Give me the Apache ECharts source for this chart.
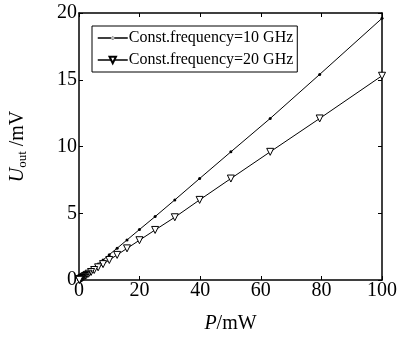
<!DOCTYPE html>
<html>
<head>
<meta charset="utf-8">
<script src="https://cdn.jsdelivr.net/npm/echarts@6/dist/echarts.min.js"></script>
<style>
  html, body { margin: 0; padding: 0; background: #fff; }
  #chart { width: 410px; height: 339px; }
</style>
</head>
<body>
<div id="chart"></div>
<script>
// input power, mW (1 dB steps)
var powerMW = [100, 79.43, 63.1, 50.12, 39.81, 31.62, 25.12, 19.95, 15.85, 12.59, 10,
  7.94, 6.31, 5.01, 3.98, 3.16, 2.51, 2.0, 1.58, 1.26, 1.0,
  0.79, 0.63, 0.5, 0.4, 0.32, 0.25, 0.2, 0.16, 0.13, 0.1]
// output voltage, mV
var uout10GHz = [19.6, 15.4, 12.1, 9.6, 7.6, 6.0, 4.75, 3.78, 3.0, 2.38, 1.9,
  1.5, 1.2, 0.95, 0.76, 0.6, 0.48, 0.38, 0.3, 0.24, 0.19,
  0.15, 0.12, 0.095, 0.076, 0.06, 0.048, 0.038, 0.03, 0.024, 0.019]
var uout20GHz = [15.3, 12.1, 9.6, 7.6, 6.0, 4.7, 3.75, 2.98, 2.37, 1.88, 1.5,
  1.19, 0.95, 0.75, 0.6, 0.47, 0.38, 0.3, 0.24, 0.19, 0.15,
  0.12, 0.095, 0.075, 0.06, 0.047, 0.038, 0.03, 0.024, 0.019, 0.015]
var seriesNames = ['Const.frequency=10 GHz', 'Const.frequency=20 GHz']

var font = 'Liberation Serif'
var chart = echarts.init(document.getElementById('chart'))

function pairs (xs, ys) {
  return xs.map(function (x, i) { return [x, ys[i]] })
}

var axisCommon = {
  axisLine: { show: true, onZero: false, lineStyle: { color: '#000', width: 1.5 } },
  axisTick: { show: true, inside: true, length: 4, lineStyle: { color: '#000', width: 1 } },
  splitLine: { show: false }
}

// legend icon for the 10 GHz series: line plus a small dot (the default dot is too big)
var dotLineIcon = 'path://M0,0M30,8M0,3.3H30V4.7H0Z' +
  'M13.4,4a1.6,1.6,0,1,0,3.2,0a1.6,1.6,0,1,0,-3.2,0Z'

chart.setOption({
  animation: false,
  backgroundColor: '#fff',
  grid: { left: 79, right: 28, top: 13, bottom: 57 },
  legend: {
    left: 92, top: 26,
    orient: 'vertical',
    data: [
      { name: seriesNames[0], icon: dotLineIcon },
      { name: seriesNames[1] }
    ],
    itemWidth: 30, itemHeight: 8, itemGap: 6,
    padding: [4, 4, 4, 5],
    borderColor: '#000', borderWidth: 1,
    lineStyle: { width: 1.5 },
    textStyle: { fontFamily: font, fontSize: 16, color: '#000', padding: [0, 0, 0, -4] }
  },
  xAxis: [
    Object.assign({
      type: 'value', min: 0, max: 100, interval: 20,
      name: '{i|P}/mW', nameLocation: 'middle', nameGap: 34,
      nameTextStyle: { fontFamily: font, fontSize: 20, color: '#000',
        rich: { i: { fontFamily: font, fontSize: 20, fontStyle: 'italic', color: '#000' } } },
      axisLabel: { fontFamily: font, fontSize: 20, color: '#000', margin: 1 }
    }, axisCommon),
    Object.assign({
      type: 'value', min: 0, max: 100, interval: 20, position: 'top',
      axisLabel: { show: false }
    }, axisCommon)
  ],
  yAxis: [
    Object.assign({
      type: 'value', min: 0, max: 20, interval: 5,
      name: '{i|U}{s|out}{n| /mV}', nameLocation: 'middle', nameGap: 50, nameRotate: 90,
      nameTextStyle: { fontFamily: font, fontSize: 20, color: '#000',
        rich: {
          i: { fontFamily: font, fontSize: 20, fontStyle: 'italic', color: '#000', lineHeight: 22 },
          s: { fontFamily: font, fontSize: 13, color: '#000', verticalAlign: 'bottom', lineHeight: 22, padding: [7, 0, 0, 0] },
          n: { fontFamily: font, fontSize: 20, color: '#000', lineHeight: 22 }
        } },
      axisLabel: { fontFamily: font, fontSize: 20, color: '#000', margin: 2 }
    }, axisCommon),
    Object.assign({
      type: 'value', min: 0, max: 20, interval: 5, position: 'right',
      axisLabel: { show: false }
    }, axisCommon)
  ],
  series: [
    {
      name: seriesNames[0],
      type: 'line',
      data: pairs(powerMW, uout10GHz),
      symbol: 'circle', symbolSize: 3, showAllSymbol: true,
      itemStyle: { color: '#000' },
      lineStyle: { color: '#000', width: 1 }
    },
    {
      name: seriesNames[1],
      type: 'line',
      data: pairs(powerMW, uout20GHz),
      symbol: 'triangle', symbolRotate: 180, symbolSize: 7, showAllSymbol: true,
      itemStyle: { color: '#fff', borderColor: '#000', borderWidth: 1 },
      lineStyle: { color: '#000', width: 1 }
    }
  ]
})
</script>
</body>
</html>
